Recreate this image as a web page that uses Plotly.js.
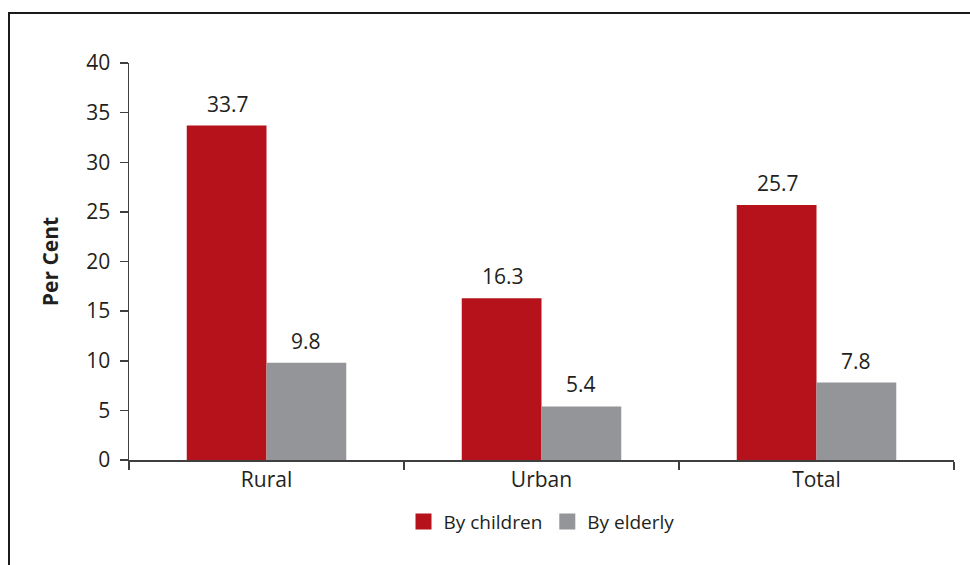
<!DOCTYPE html>
<html>
<head>
<meta charset="utf-8">
<script src="https://cdn.plot.ly/plotly-3.0.1.min.js"></script>
<style>
  html, body { margin: 0; padding: 0; background: #ffffff; }
  #wrap { position: relative; width: 970px; height: 565px; }
  #chart { width: 970px; height: 565px; }
  #frame { position: absolute; left: 8px; top: 12px; right: 0; bottom: 0;
           border-left: 2px solid #1a1a1a; border-top: 2px solid #1a1a1a; pointer-events: none; }
</style>
</head>
<body>
<div id="wrap">
  <div id="chart"></div>
  <div id="frame"></div>
</div>
<script>
const categories = ["Rural", "Urban", "Total"];
const byChildren = [33.7, 16.3, 25.7];
const byElderly = [9.8, 5.4, 7.8];
const seriesNames = ["By children", "By elderly"];
const yTicks = [0, 5, 10, 15, 20, 25, 30, 35, 40];

const FONT = "'Open Sans', 'Noto Sans', sans-serif";
const TXT = "#231f20";
const RED = "#b5121b";
const GREY = "#939598";
const colors = [RED, GREY];

const traces = [
  { type: "bar", x: categories, y: byChildren, name: seriesNames[0],
    marker: { color: RED }, hoverinfo: "none", showlegend: false },
  { type: "bar", x: categories, y: byElderly, name: seriesNames[1],
    marker: { color: GREY }, hoverinfo: "none", showlegend: false }
];
// legend entries with larger square keys (no plotted points)
seriesNames.forEach((n, i) => {
  traces.push({ type: "scatter", mode: "markers", x: [null], y: [null], name: n,
    marker: { symbol: "square", size: 16, color: colors[i] }, hoverinfo: "none", showlegend: true });
});

const annotations = [];
[byChildren, byElderly].forEach((vals, si) => {
  vals.forEach((v, i) => {
    annotations.push({
      x: categories[i], y: v, xref: "x", yref: "y",
      text: v.toFixed(1), showarrow: false,
      xanchor: "center", yanchor: "bottom",
      xshift: si === 0 ? -39 : 39, yshift: 6,
      font: { family: FONT, size: 21, color: TXT }
    });
  });
});

const layout = {
  width: 970, height: 565,
  margin: { l: 129, r: 16, t: 63, b: 105 },
  paper_bgcolor: "#ffffff", plot_bgcolor: "#ffffff",
  barmode: "group", bargap: 0.42, bargroupgap: 0,
  font: { family: FONT, size: 21, color: TXT },
  showlegend: true,
  legend: { orientation: "h", x: 0.5, xanchor: "center", y: -0.155, yanchor: "middle",
            font: { family: FONT, size: 19, color: TXT }, traceorder: "normal",
            itemwidth: 30, tracegroupgap: 0 },
  xaxis: {
    type: "category", showline: true, linecolor: "#3f3f3f", linewidth: 1.5,
    ticks: "outside", tickson: "boundaries", ticklen: 8, tickcolor: "#3f3f3f", tickwidth: 1.5,
    showgrid: false, zeroline: false, tickfont: { family: FONT, size: 21, color: TXT },
    range: [-0.5, 2.5]
  },
  yaxis: {
    range: [0, 40], tickvals: yTicks, ticktext: yTicks.map(String),
    showline: true, linecolor: "#3f3f3f", linewidth: 1.5,
    ticks: "outside", ticklen: 8, tickcolor: "#3f3f3f", tickwidth: 1.5,
    ticklabelstandoff: 5,
    showgrid: false, zeroline: false, tickfont: { family: FONT, size: 21, color: TXT },
    title: { text: "<b>Per Cent</b>", standoff: 22, font: { family: FONT, size: 21, color: TXT } }
  },
  annotations: annotations
};

Plotly.newPlot("chart", traces, layout, { staticPlot: true, displayModeBar: false });
</script>
</body>
</html>
